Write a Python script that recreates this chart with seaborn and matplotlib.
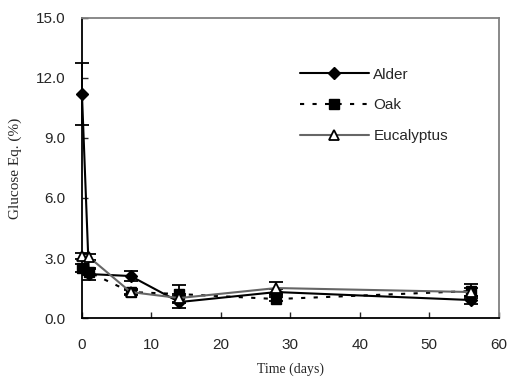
import numpy as np
import pandas as pd
import matplotlib
matplotlib.use("Agg")
import matplotlib.pyplot as plt
import seaborn as sns

days = [0, 1, 7, 14, 28, 56]
alder = [11.2, 2.2, 2.1, 0.8, 1.3, 0.9]
alder_err = [1.55, 0.3, 0.25, 0.3, 0.15, 0.2]
oak = [2.5, 2.3, 1.3, 1.2, 0.95, 1.35]
oak_err = [0.2, 0.15, 0.15, 0.45, 0.1, 0.35]
euca = [3.1, 3.05, 1.3, 1.0, 1.5, 1.3]
euca_err = [0.15, 0.15, 0.1, 0.2, 0.3, 0.2]

sns.set_style("ticks")
plt.rcParams['font.family'] = ['Liberation Sans', 'DejaVu Sans']

fig = plt.figure(figsize=(5.09, 3.8), dpi=100)
ax = fig.add_axes([0.161, 0.163, 0.819, 0.79])

series = [
    ("Alder", alder, alder_err, dict(color="black", marker="D", markersize=6, linestyle="-",
                                    mfc="black", mec="black", lw=1.5)),
    ("Oak", oak, oak_err, dict(color="black", marker="s", markersize=7, linestyle=(0, (2, 4)),
                              mfc="black", mec="black", lw=1.5)),
    ("Eucalyptus", euca, euca_err, dict(color="#666666", marker="^", markersize=7, linestyle="-",
                                       mfc="white", mec="black", mew=1.3, lw=1.5)),
]

for name, vals, err, st in series:
    df = pd.DataFrame({"day": days, "val": vals})
    ax.errorbar(days, vals, yerr=err, fmt="none", ecolor="black", elinewidth=1.3,
                capsize=5, capthick=1.3, zorder=2, clip_on=False)
    sns.lineplot(data=df, x="day", y="val", ax=ax, label=name, zorder=3,
                 color=st["color"], linestyle=st["linestyle"], lw=st["lw"],
                 marker=st["marker"], markersize=st["markersize"],
                 markerfacecolor=st["mfc"], markeredgecolor=st["mec"],
                 markeredgewidth=st.get("mew", 1), clip_on=False)

ax.set_xlim(0, 60)
ax.set_ylim(0, 15)
ax.set_xticks([0, 10, 20, 30, 40, 50, 60])
ax.set_yticks([0, 3, 6, 9, 12, 15])
ax.set_yticklabels(["0.0", "3.0", "6.0", "9.0", "12.0", "15.0"])
ax.tick_params(direction="in", length=4, labelsize=11, width=1)
ax.tick_params(axis="y", pad=12)
ax.tick_params(axis="x", pad=14)
ax.set_xlabel("Time (days)", family="Liberation Serif", fontsize=10, labelpad=8)
ax.set_ylabel("Glucose Eq. (%)", family="Liberation Serif", fontsize=11, labelpad=10)

for s in ["left", "bottom"]:
    ax.spines[s].set_linewidth(1.3)
    ax.spines[s].set_color("black")
for s in ["top", "right"]:
    ax.spines[s].set_linewidth(1.3)
    ax.spines[s].set_color("#808080")

leg = ax.legend(loc="upper left", bbox_to_anchor=(0.49, 0.88), frameon=False,
                handlelength=4.5, labelspacing=1.1, fontsize=11, handletextpad=0.3)

fig.savefig("out.png", dpi=100)
